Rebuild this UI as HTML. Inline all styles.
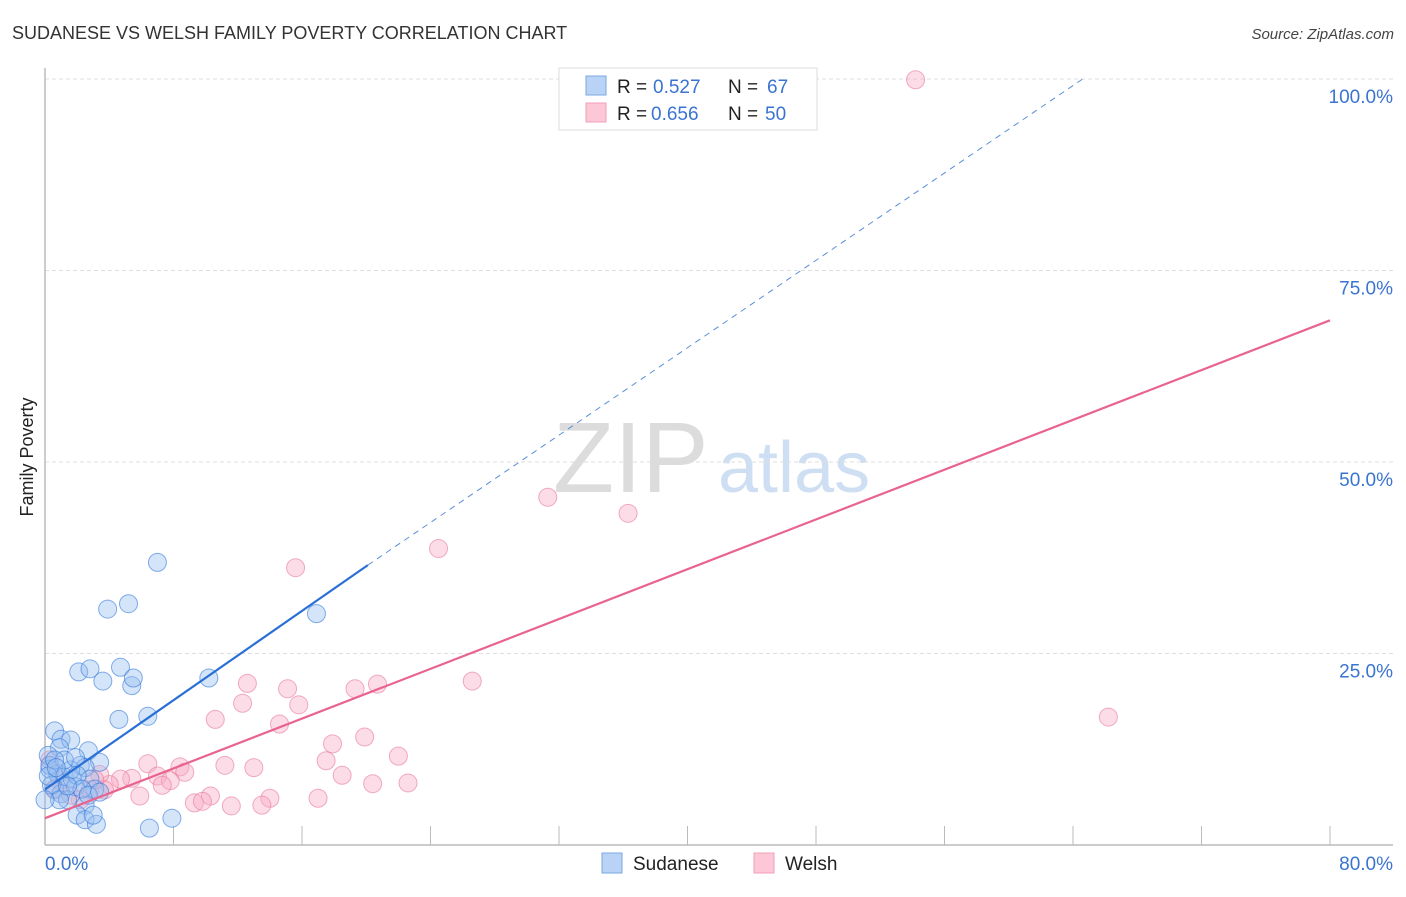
<!DOCTYPE html>
<html><head><meta charset="utf-8"><style>
body{margin:0;background:#fff;font-family:"Liberation Sans",sans-serif;}
svg text{font-family:"Liberation Sans",sans-serif;}
</style></head><body>
<svg id="chart" width="1406" height="892" viewBox="0 0 1406 892">
<text x="12" y="39" font-size="18" fill="#333">SUDANESE VS WELSH FAMILY POVERTY CORRELATION CHART</text>
<text x="1394" y="39" font-size="15" fill="#444" font-style="italic" text-anchor="end">Source: ZipAtlas.com</text>
<text x="33" y="457" font-size="18" fill="#222" transform="rotate(-90 33 457)" text-anchor="middle">Family Poverty</text>
<text x="553" y="492" font-size="100" fill="#dcdcdc" font-family="Liberation Serif">ZIP</text>
<text x="718" y="492" font-size="72" fill="#cfdff3">atlas</text>
<g id="grid"></g>
<g id="pts"></g>
<g id="lines"></g>
<g>
<rect x="559" y="68" width="258" height="62" fill="#fff" stroke="#ddd"/>
<rect x="586" y="76" width="20" height="19" fill="#b8d3f5" stroke="#7aa8e0"/>
<rect x="586" y="103" width="20" height="19" fill="#fcc8d7" stroke="#f0a0b8"/>
<text x="617" y="93" font-size="19" fill="#222">R =</text>
<text x="653" y="93" font-size="19" fill="#3a74d0">0.527</text>
<text x="728" y="93" font-size="19" fill="#222">N =</text>
<text x="767" y="93" font-size="19" fill="#3a74d0">67</text>
<text x="617" y="120" font-size="19" fill="#222">R =</text>
<text x="651" y="120" font-size="19" fill="#3a74d0">0.656</text>
<text x="728" y="120" font-size="19" fill="#222">N =</text>
<text x="765" y="120" font-size="19" fill="#3a74d0">50</text>
</g>
<g>
<rect x="602" y="853" width="20" height="20" fill="#b8d3f5" stroke="#7aa8e0"/>
<text x="633" y="870" font-size="19" fill="#222">Sudanese</text>
<rect x="754" y="853" width="20" height="20" fill="#fcc8d7" stroke="#f0a0b8"/>
<text x="785" y="870" font-size="19" fill="#222">Welsh</text>
</g>
<text x="45" y="870" font-size="19" fill="#3a74d0">0.0%</text>
<text x="1393" y="870" font-size="19" fill="#3a74d0" text-anchor="end">80.0%</text>
</svg>
<script>
const yTicks=[25,50,75,100];
const yTickLabels=["25.0%","50.0%","75.0%","100.0%"];
const sudX=[7.0,3.9,5.2,16.9,2.1,2.8,4.7,3.6,5.4,5.5,10.2,4.6,6.4,0.6,1.0,1.6,2.7,0.9,0.2,3.4,2.2,2.5,0.3,0.8,1.2,1.7,2.8,0.6,1.0,1.9,3.1,1.4,2.5,2.0,2.5,3.2,6.5,7.9,3.0,0.3,0.4,0.9,1.6,2.0,2.3,1.2,1.9,0.6,1.4,2.7,3.4,0.0,0.2,0.7];
const sudY=[36.9,30.8,31.5,30.2,22.6,23.0,23.2,21.4,20.8,21.8,21.8,16.4,16.8,14.9,13.8,13.7,12.3,12.7,11.7,10.8,10.4,10.1,9.9,9.3,8.9,8.6,8.6,7.3,6.7,7.6,7.3,5.9,5.2,3.9,3.3,2.7,2.2,3.5,3.9,10.4,7.8,5.9,9.8,9.1,7.3,11.1,11.4,11.1,7.7,6.5,6.9,5.9,9.0,10.1];
const welX=[54.2,31.3,36.3,24.5,15.6,26.6,66.2,12.6,15.1,19.3,20.7,15.8,12.3,10.6,14.6,19.9,17.9,22.0,6.4,8.4,17.5,11.2,13.0,18.5,8.7,7.0,7.8,22.6,20.4,7.3,5.4,4.7,4.0,3.4,5.9,10.3,9.3,9.8,14.0,11.6,13.5,17.0,2.8,0.9,0.3,0.6,2.2,1.6,3.7,3.1];
const welY=[99.9,45.4,43.3,38.7,36.2,21.4,16.7,21.1,20.4,20.4,21.0,18.3,18.5,16.4,15.8,14.1,13.2,11.6,10.6,10.2,11.0,10.4,10.1,9.1,9.5,9.0,8.4,8.1,8.0,7.8,8.7,8.6,7.9,9.2,6.4,6.4,5.5,5.7,6.1,5.1,5.2,6.1,7.2,8.5,11.1,7.2,5.9,6.5,7.2,8.5];
const sudIntercept=7.25, sudSlope=1.457, sudEndX=20.1, sudExtEnd=[64.6,100];
const welIntercept=3.5, welEnd=68.5;
const sx=v=>45+v/80*1285, sy=v=>845-v*7.66;
const NS="http://www.w3.org/2000/svg";
function mk(tag,attrs,parent){const e=document.createElementNS(NS,tag);for(const k in attrs)e.setAttribute(k,attrs[k]);parent.appendChild(e);return e;}
const grid=document.getElementById('grid');
yTicks.forEach((t,i)=>{
 const l=mk('line',{x1:45,x2:1393,y1:sy(t),y2:sy(t),stroke:'#ddd','stroke-dasharray':'4,3'},grid);
 
 
 const tx=mk('text',{x:1393,y:sy(t)+24,'font-size':19,fill:'#3a74d0','text-anchor':'end'},grid);
 tx.textContent=yTickLabels[i];
 
 
});
const ax=mk('line',{x1:45,x2:1393,y1:845,y2:845,stroke:'#bbb','stroke-width':1.5},grid);


const ay=mk('line',{x1:45,x2:45,y1:68,y2:845,stroke:'#bbb','stroke-width':1.5},grid);


for(let v=8;v<=80;v+=8){const t=mk('line',{x1:sx(v),x2:sx(v),y1:826,y2:845,stroke:'#bbb'},grid);
 
 }
const pts=document.getElementById('pts');
welX.forEach((x,i)=>{const c=mk('circle',{cx:sx(x),cy:sy(welY[i]),r:9,fill:'rgba(248,170,195,0.4)',stroke:'rgba(232,120,155,0.6)'},pts);
 
 });
sudX.forEach((x,i)=>{const c=mk('circle',{cx:sx(x),cy:sy(sudY[i]),r:9,fill:'rgba(150,190,240,0.4)',stroke:'rgba(50,120,220,0.6)'},pts);
 
 });
const ln=document.getElementById('lines');
const sf=x=>sudIntercept+sudSlope*x;
const l1=mk('line',{x1:sx(0),y1:sy(sf(0)),x2:sx(sudEndX),y2:sy(sf(sudEndX)),stroke:'#2a6fd6','stroke-width':2.2},ln);


const l2=mk('line',{x1:sx(sudEndX),y1:sy(sf(sudEndX)),x2:sx(sudExtEnd[0]),y2:sy(sudExtEnd[1]),stroke:'#5a8fd8','stroke-width':1,'stroke-dasharray':'6,5'},ln);


const l3=mk('line',{x1:sx(0),y1:sy(welIntercept),x2:sx(80),y2:sy(welEnd),stroke:'#e8648f','stroke-width':2.2},ln);


</script>
</body></html>
